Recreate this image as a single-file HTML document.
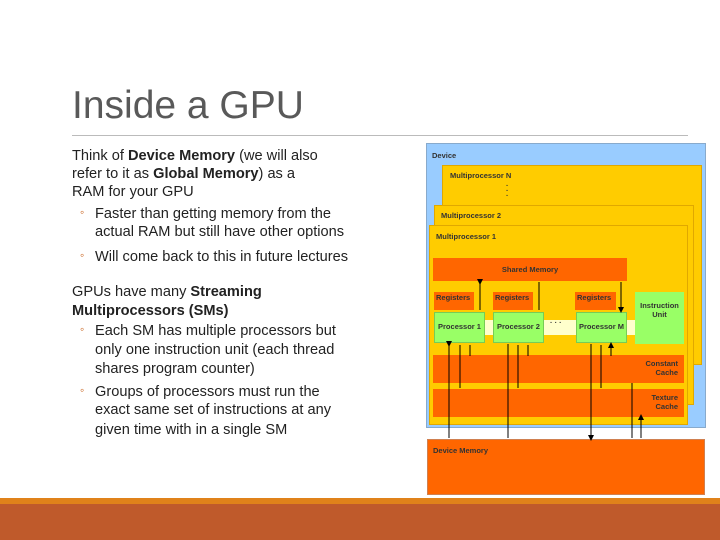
<!DOCTYPE html>
<html><head><meta charset="utf-8"><style>
body{margin:0;width:720px;height:540px;position:relative;overflow:hidden;background:#fff;font-family:"Liberation Sans",sans-serif}
.a{position:absolute;box-sizing:border-box}
h1{position:absolute;left:72px;top:84px;margin:0;font-weight:normal;font-size:39px;color:#595959}
.l{position:absolute;font-size:14.6px;color:#222;white-space:nowrap;line-height:18px}
.b{left:72px}.i{left:95px}
.bu{position:absolute;left:80px;font-size:12px;color:#c55a11}
.d{font-size:7.5px;font-weight:bold;color:#333}
</style></head><body>
<h1>Inside a GPU</h1>
<div class="a" style="left:72px;top:135px;width:616px;height:1px;background:#bbb"></div>
<div class="l b" style="top:147px">Think of <b>Device Memory</b> (we will also</div>
<div class="l b" style="top:165px">refer to it as <b>Global Memory</b>) as a</div>
<div class="l b" style="top:183px">RAM for your GPU</div>
<div class="bu" style="top:205px">◦</div>
<div class="l i" style="top:205px">Faster than getting memory from the</div>
<div class="l i" style="top:223px">actual RAM but still have other options</div>
<div class="bu" style="top:248px">◦</div>
<div class="l i" style="top:248px">Will come back to this in future lectures</div>
<div class="l b" style="top:283px">GPUs have many <b>Streaming</b></div>
<div class="l b" style="top:302px"><b>Multiprocessors (SMs)</b></div>
<div class="bu" style="top:322px">◦</div>
<div class="l i" style="top:322px">Each SM has multiple processors but</div>
<div class="l i" style="top:341px">only one instruction unit (each thread</div>
<div class="l i" style="top:360px">shares program counter)</div>
<div class="bu" style="top:383px">◦</div>
<div class="l i" style="top:383px">Groups of processors must run the</div>
<div class="l i" style="top:401px">exact same set of instructions at any</div>
<div class="l i" style="top:421px">given time with in a single SM</div>

<div class="a" style="left:426px;top:143px;width:280px;height:285px;background:#99ccff;border:1px solid #88aacc"></div>
<div class="a d" style="left:432px;top:151px">Device</div>
<div class="a" style="left:442px;top:165px;width:260px;height:200px;background:#ffcc00;border:1px solid #e0a800"></div>
<div class="a d" style="left:450px;top:171px">Multiprocessor N</div>
<div class="a d" style="left:506px;top:183px;line-height:5px">·<br>·<br>·</div>
<div class="a" style="left:434px;top:205px;width:260px;height:200px;background:#ffcc00;border:1px solid #e0a800"></div>
<div class="a d" style="left:441px;top:211px">Multiprocessor 2</div>
<div class="a" style="left:429px;top:225px;width:259px;height:200px;background:#ffcc00;border:1px solid #e0a800"></div>
<div class="a d" style="left:436px;top:232px">Multiprocessor 1</div>
<div class="a d" style="left:433px;top:258px;width:194px;height:23px;background:#ff6600;text-align:center;line-height:23px">Shared Memory</div>
<div class="a d" style="left:434px;top:292px;width:40px;height:18px;background:#ff6600;padding:1px 2px">Registers</div>
<div class="a d" style="left:493px;top:292px;width:40px;height:18px;background:#ff6600;padding:1px 2px">Registers</div>
<div class="a d" style="left:575px;top:292px;width:41px;height:18px;background:#ff6600;padding:1px 2px">Registers</div>
<div class="a" style="left:485px;top:320px;width:150px;height:15px;background:#ffffcc"></div>
<div class="a d" style="left:434px;top:312px;width:51px;height:31px;background:#99ff66;border:1px solid #77cc55;text-align:center;line-height:28px">Processor 1</div>
<div class="a d" style="left:493px;top:312px;width:51px;height:31px;background:#99ff66;border:1px solid #77cc55;text-align:center;line-height:28px">Processor 2</div>
<div class="a d" style="left:550px;top:318px">· · ·</div>
<div class="a d" style="left:576px;top:312px;width:51px;height:31px;background:#99ff66;border:1px solid #77cc55;text-align:center;line-height:28px">Processor M</div>
<div class="a d" style="left:635px;top:292px;width:49px;height:52px;background:#99ff66;text-align:center;padding-top:9px;line-height:9px">Instruction<br>Unit</div>
<div class="a d" style="left:433px;top:355px;width:251px;height:28px;background:#ff6600;text-align:right;padding:4px 6px;line-height:9px">Constant<br>Cache</div>
<div class="a d" style="left:433px;top:389px;width:251px;height:28px;background:#ff6600;text-align:right;padding:4px 6px;line-height:9px">Texture<br>Cache</div>
<div class="a d" style="left:427px;top:439px;width:278px;height:56px;background:#ff6600;border:1px solid #d08050;padding:6px 5px">Device Memory</div>
<svg class="a" style="left:0;top:0" width="720" height="540">
<defs><marker id="m" markerWidth="6" markerHeight="6" refX="3" refY="3" orient="auto" markerUnits="userSpaceOnUse"><path d="M0,0L6,3L0,6z" fill="#000"/></marker></defs>
<g stroke="#000" stroke-width="1" fill="none">
<path d="M480,282V310M539,282V310M621,282V310" marker-start="url(#m)" marker-end="url(#m)"/>
<path d="M449,344V438M508,344V438M591,344V438" marker-start="url(#m)" marker-end="url(#m)"/>
<path d="M460,388V345M518,388V345M601,388V345M470,356V345M528,356V345M611,356V345" marker-end="url(#m)"/>
<path d="M632,438V383M641,438V417" marker-end="url(#m)"/>
</g></svg>
<div class="a" style="left:0;top:498px;width:720px;height:6px;background:#e0821a"></div>
<div class="a" style="left:0;top:504px;width:720px;height:36px;background:#bf5a2b"></div>
</body></html>
